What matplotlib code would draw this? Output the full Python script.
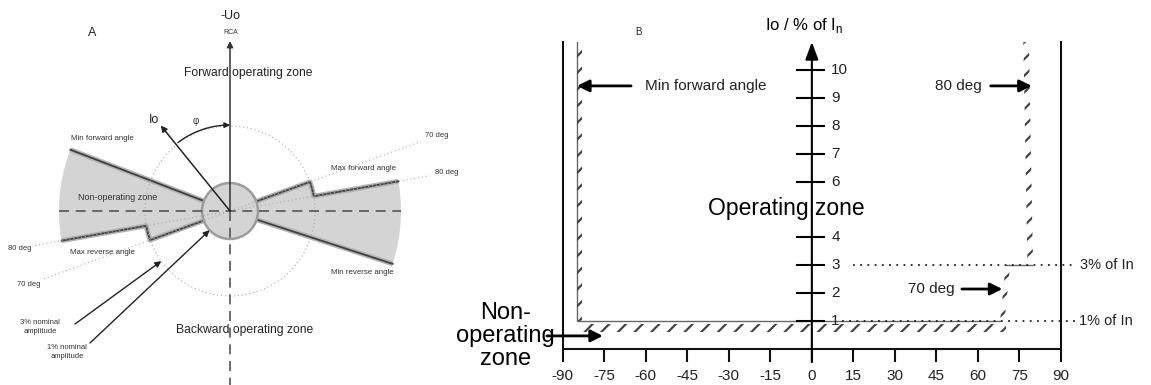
import numpy as np
import matplotlib.pyplot as plt
from matplotlib.patches import Polygon, Circle, Rectangle

plt.rcParams['font.family'] = ['Liberation Sans', 'DejaVu Sans']
plt.rcParams['hatch.linewidth'] = 1.6

# --- A: directional characteristic, angles in degrees from RCA (clockwise positive)
limit_angles = [70, 80]            # dotted guide lines
min_forward_angle = -69
max_forward_angles = [70, 80]      # at 3 % / 1 % nominal amplitude
max_reverse_angles = [250, 260]
min_reverse_angle = 108
io_angle = -39
amp_1pct, amp_3pct, amp_max = 28, 85, 171   # radii of the amplitude circles

# --- B: operating characteristic
angle_ticks = [-90, -75, -60, -45, -30, -15, 0, 15, 30, 45, 60, 75, 90]
io_ticks = [1, 2, 3, 4, 6, 7, 8, 9, 10]
min_forward_b = -85
step_angles = [68, 70]             # 1 % -> 3 % step
upper_angles = [79.5, 78]          # 80 deg boundary, bottom -> top
io_levels = [1, 3]
io_top = 11

DARK = '#404040'
SHADE = '#d4d4d4'


def pol(r, phi):
    a = np.radians(90 - phi)
    return r * np.cos(a), r * np.sin(a)


def arc(r, phi1, phi2, n=40):
    p = np.linspace(phi1, phi2, n)
    x, y = pol(r, p)
    return list(zip(x, y))


fig = plt.figure(figsize=(11.51, 3.85), dpi=100)

# ---------------- panel A ----------------
ax = fig.add_axes([0, 0, 480 / 1151, 1])
ax.set_xlim(-230, 250)
ax.set_ylim(-174, 211)
ax.axis('off')

fwd_in, fwd_out = max_forward_angles
rev_in, rev_out = max_reverse_angles

left = ([pol(amp_1pct, min_forward_angle), pol(amp_max, min_forward_angle)]
        + arc(amp_max, min_forward_angle, rev_out - 360)
        + arc(amp_3pct, rev_out - 360, rev_in - 360)
        + [pol(amp_1pct, rev_in - 360)])
right = ([pol(amp_1pct, min_reverse_angle), pol(amp_max, min_reverse_angle)]
         + arc(amp_max, min_reverse_angle, fwd_out)
         + arc(amp_3pct, fwd_out, fwd_in)
         + [pol(amp_1pct, fwd_in)])
for pts in (left, right):
    ax.add_patch(Polygon(pts, closed=True, facecolor=SHADE, edgecolor='none', zorder=1))

edges = [
    [pol(amp_1pct, min_forward_angle), pol(amp_max, min_forward_angle)],
    [pol(amp_1pct, min_reverse_angle), pol(amp_max, min_reverse_angle)],
    [pol(amp_1pct, fwd_in)] + arc(amp_3pct, fwd_in, fwd_out) + [pol(amp_max, fwd_out)],
    [pol(amp_1pct, rev_in)] + arc(amp_3pct, rev_in, rev_out) + [pol(amp_max, rev_out)],
]
for e in edges:
    xs, ys = zip(*e)
    ax.plot(xs, ys, color='#b4b4b4', lw=3.6, solid_capstyle='butt', zorder=2)
    ax.plot(xs, ys, color=DARK, lw=1.3, zorder=2.1)

ax.add_patch(Circle((0, 0), amp_1pct, facecolor=SHADE, edgecolor='#9c9c9c', lw=1.8, zorder=2.5))
ax.add_patch(Circle((0, 0), amp_3pct, fill=False, edgecolor='#a8a8a8', lw=0.8,
                    ls=(0, (1, 2.5)), zorder=3))

# guide lines at 70 / 80 deg
for ang in limit_angles:
    x0, y0 = pol(-198, ang)
    x1, y1 = pol(203, ang)
    ax.plot([x0, x1], [y0, y1], color='#a8a8a8', lw=0.8, ls=(0, (1, 2.5)), zorder=3)
    tx, ty = pol(220, ang)
    ax.text(tx, ty, f'{ang} deg', fontsize=5.5, color='#333', ha='center', va='center')
    tx, ty = pol(-214, ang)
    ax.text(tx, ty, f'{ang} deg', fontsize=5.5, color='#333', ha='center', va='center')

# axes of the diagram
ax.plot([-amp_max, amp_max], [0, 0], color='#555', lw=1.2, ls=(0, (6, 4)), zorder=3)
ax.plot([0, 0], [0, -174], color='#555', lw=1.2, ls=(0, (6, 4)), zorder=3)
ax.annotate('', xy=(0, 170), xytext=(0, 0),
            arrowprops=dict(arrowstyle='-|>', color='#333', lw=1.1, mutation_scale=9,
                            shrinkA=0, shrinkB=0), zorder=3)

# Io vector and phi arc
ax.annotate('', xy=pol(110, io_angle), xytext=(0, 0),
            arrowprops=dict(arrowstyle='-|>', color='#222', lw=1.1, mutation_scale=9,
                            shrinkA=0, shrinkB=0), zorder=4)
arc_pts = arc(86, io_angle + 2, -3)
ax.plot(*zip(*arc_pts), color='#222', lw=1.0, zorder=4)
ax.annotate('', xy=pol(86, 0), xytext=pol(86, -3),
            arrowprops=dict(arrowstyle='-|>', color='#222', lw=1.0, mutation_scale=8,
                            shrinkA=0, shrinkB=0), zorder=4)

ax.text(-138, 178, 'A', fontsize=9, ha='center', va='center', color='#222')
ax.text(1, 195, '-Uo', fontsize=9, ha='center', va='center', color='#222')
ax.text(1, 178, 'RCA', fontsize=5, ha='center', va='center', color='#333')
ax.text(18, 138, 'Forward operating zone', fontsize=8.7, ha='center', va='center', color='#222')
ax.text(14.5, -119, 'Backward operating zone', fontsize=8.7, ha='center', va='center', color='#222')
ax.text(-76, 91, 'Io', fontsize=9, ha='center', va='center', color='#222')
ax.text(-34, 90, 'φ', fontsize=7, ha='center', va='center', color='#333')
ax.text(-128, 73, 'Min forward angle', fontsize=5.7, ha='center', va='center', color='#333')
ax.text(-112, 14, 'Non-operating zone', fontsize=6.5, ha='center', va='center', color='#333')
ax.text(-128, -41, 'Max reverse angle', fontsize=5.7, ha='center', va='center', color='#333')
ax.text(134, 43, 'Max forward angle', fontsize=5.7, ha='center', va='center', color='#333')
ax.text(132, -62, 'Min reverse angle', fontsize=5.7, ha='center', va='center', color='#333')
ax.text(-190, -116, '3% nominal\namplitude', fontsize=5.5, ha='center', va='center',
        color='#333', linespacing=1.3)
ax.text(-163, -141, '1% nominal\namplitude', fontsize=5.5, ha='center', va='center',
        color='#333', linespacing=1.3)

for r, start in [(amp_3pct, (-155, -113)), (amp_1pct, (-140, -132))]:
    d = np.hypot(*start)
    tip = (start[0] * r / d, start[1] * r / d)
    ax.annotate('', xy=tip, xytext=start,
                arrowprops=dict(arrowstyle='-|>', color='#222', lw=1.0, mutation_scale=9,
                                shrinkA=0, shrinkB=0), zorder=4)

# ---------------- panel B ----------------
y0_px, unit_px = 349, 27.9
bx = fig.add_axes([562.7 / 1151, (385 - y0_px) / 385, (1061 - 562.7) / 1151,
                   io_top * unit_px / 385])
bx.set_xlim(-90, 90)
bx.set_ylim(0, io_top)
bx.patch.set_alpha(0)
bx.spines['top'].set_visible(False)
for s in ('left', 'right', 'bottom'):
    bx.spines[s].set_linewidth(1.5)
    bx.spines[s].set_color('#111')
bx.set_xticks(angle_ticks)
bx.set_xticklabels([str(t) for t in angle_ticks], fontsize=11, color='#222')
bx.tick_params(axis='x', direction='out', length=9.4, width=1.5, pad=5, color='#111')
bx.tick_params(axis='y', left=False, labelleft=False)

# Io axis
bx.annotate('', xy=(0, io_top), xytext=(0, -0.47),
            arrowprops=dict(arrowstyle='-|>,head_length=0.75,head_width=0.28', color='black',
                            lw=1.5, mutation_scale=14, shrinkA=0, shrinkB=0),
            annotation_clip=False, zorder=5)
bx.hlines(io_ticks, -5.7, 4.8, color='black', lw=1.5, zorder=5)
for t in io_ticks:
    bx.text(7, t, str(t), fontsize=11, color='#222', ha='left', va='center', zorder=5)

# operating boundary with hatching on the non-operating side
lo, hi = io_levels
HATCH = dict(facecolor='none', edgecolor='#444', lw=0, hatch='//', zorder=3)
bx.plot([min_forward_b, min_forward_b, step_angles[0]], [io_top, lo, lo], color='#666', lw=1.0)
bx.plot([step_angles[1], upper_angles[0]], [hi, hi], color='#666', lw=1.0)
bx.add_patch(Rectangle((min_forward_b, lo), 2, io_top - lo, **HATCH))
bx.add_patch(Rectangle((min_forward_b, 0.62), step_angles[1] - min_forward_b, 0.28, **HATCH))
bx.add_patch(Polygon([(step_angles[0], lo), (step_angles[1], hi),
                      (step_angles[1] + 1.6, hi), (step_angles[0] + 1.6, lo)], **HATCH))
bx.add_patch(Polygon([(upper_angles[0] - 1.6, hi), (upper_angles[1] - 1.6, io_top),
                      (upper_angles[1] + 0.4, io_top), (upper_angles[0] + 0.4, hi)], **HATCH))

# amplitude thresholds
bx.plot([14.8, 93.9], [hi, hi], color='#222', lw=1.3, ls=(0, (1, 3)), clip_on=False)
bx.plot([10.8, 95], [lo, lo], color='#222', lw=1.3, ls=(0, (1, 3)), clip_on=False)
bx.text(97, hi, f'{hi}% of In', fontsize=10.5, color='#222', va='center', ha='left')
bx.text(96.4, lo, f'{lo}% of In', fontsize=10.5, color='#222', va='center', ha='left')

AR = dict(arrowstyle='-|>', color='black', lw=2, mutation_scale=18, shrinkA=0, shrinkB=0)
bx.text(-60.3, 9.43, 'Min forward angle', fontsize=11, color='#222', va='center', ha='left')
bx.annotate('', xy=(min_forward_b + 0.2, 9.43), xytext=(-65.3, 9.43), arrowprops=AR)
bx.text(44.4, 9.43, '80 deg', fontsize=11, color='#222', va='center', ha='left')
bx.annotate('', xy=(79.4, 9.43), xytext=(64.6, 9.43), arrowprops=AR)
bx.text(34.7, 2.15, '70 deg', fontsize=11, color='#222', va='center', ha='left')
bx.annotate('', xy=(68.8, 2.15), xytext=(54.2, 2.15), arrowprops=AR)

bx.text(-9.4, 5.05, 'Operating zone', fontsize=16.5, color='black', ha='center', va='center',
        zorder=6)
bx.text(-2.9, 11.6, r'Io / % of I$_\mathregular{n}$', fontsize=12, color='black',
        ha='center', va='center', clip_on=False)
bx.text(-62.8, 11.36, 'B', fontsize=7, color='#222', ha='center', va='center')

bx.text(-110.8, 0.47, 'Non-\noperating\nzone', fontsize=17, color='black', ha='center',
        va='center', linespacing=1.05, clip_on=False)
bx.annotate('', xy=(-75.5, 0.47), xytext=(-95.7, 0.47), arrowprops=AR, annotation_clip=False)

fig.savefig('out.png', dpi=100)
